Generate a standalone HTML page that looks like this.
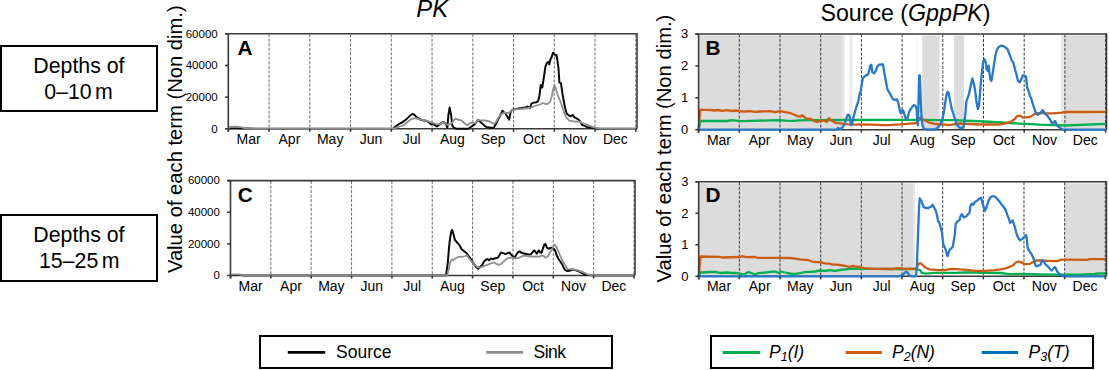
<!DOCTYPE html><html><head><meta charset="utf-8"><style>html,body{margin:0;padding:0;background:#fff;}svg{display:block;}</style></head><body>
<svg width="1109" height="370" viewBox="0 0 1109 370" font-family="Liberation Sans, sans-serif">
<rect width="1109" height="370" fill="#fff"/>
<rect x="1" y="46" width="156" height="65" fill="none" stroke="#000" stroke-width="2"/>
<text x="78.9" y="73.3" font-size="21.3" text-anchor="middle" fill="#000">Depths of</text>
<text x="78.6" y="99" font-size="21.3" word-spacing="-2.5" text-anchor="middle" fill="#000">0–10 m</text>
<rect x="1" y="215" width="156" height="66" fill="none" stroke="#000" stroke-width="2"/>
<text x="78.9" y="241.6" font-size="21.3" text-anchor="middle" fill="#000">Depths of</text>
<text x="79.2" y="267.5" font-size="21.3" word-spacing="-2.5" text-anchor="middle" fill="#000">15–25 m</text>
<text x="432.2" y="17.2" font-size="23.8" font-style="italic" text-anchor="middle" fill="#000">PK</text>
<text x="905.5" y="20.6" font-size="23.2" text-anchor="middle" fill="#000">Source (<tspan font-style="italic">GppPK</tspan>)</text>
<text transform="translate(182,139.2) rotate(-90)" font-size="20.2" text-anchor="middle" fill="#000">Value of each term (Non dim.)</text>
<text transform="translate(671,148.6) rotate(-90)" font-size="20.2" text-anchor="middle" fill="#000">Value of each term (Non dim.)</text>
<line x1="269.05" y1="34.3" x2="269.05" y2="128.8" stroke="#6e6e6e" stroke-width="1" stroke-dasharray="3,1.5"/>
<line x1="309.80" y1="34.3" x2="309.80" y2="128.8" stroke="#6e6e6e" stroke-width="1" stroke-dasharray="3,1.5"/>
<line x1="350.55" y1="34.3" x2="350.55" y2="128.8" stroke="#6e6e6e" stroke-width="1" stroke-dasharray="3,1.5"/>
<line x1="391.30" y1="34.3" x2="391.30" y2="128.8" stroke="#6e6e6e" stroke-width="1" stroke-dasharray="3,1.5"/>
<line x1="432.05" y1="34.3" x2="432.05" y2="128.8" stroke="#6e6e6e" stroke-width="1" stroke-dasharray="3,1.5"/>
<line x1="472.80" y1="34.3" x2="472.80" y2="128.8" stroke="#6e6e6e" stroke-width="1" stroke-dasharray="3,1.5"/>
<line x1="513.55" y1="34.3" x2="513.55" y2="128.8" stroke="#6e6e6e" stroke-width="1" stroke-dasharray="3,1.5"/>
<line x1="554.30" y1="34.3" x2="554.30" y2="128.8" stroke="#6e6e6e" stroke-width="1" stroke-dasharray="3,1.5"/>
<line x1="595.05" y1="34.3" x2="595.05" y2="128.8" stroke="#6e6e6e" stroke-width="1" stroke-dasharray="3,1.5"/>
<line x1="635.80" y1="34.3" x2="635.80" y2="128.8" stroke="#6e6e6e" stroke-width="1" stroke-dasharray="3,1.5"/>
<line x1="228.3" y1="128.8" x2="637" y2="128.8" stroke="#3a3a3a" stroke-width="1.6"/>
<polyline points="228.3,128.8 231.0,128.2 240.0,128.3 255.0,128.8 393.0,128.8 396.0,126.1 398.7,124.2 401.8,122.6 404.6,120.7 407.7,117.9 410.1,115.6 412.4,114.0 414.0,114.4 415.9,116.4 417.5,117.9 420.2,119.5 422.6,120.3 427.3,121.0 428.9,122.6 430.8,124.2 432.8,123.8 435.1,125.4 436.7,126.5 439.0,125.0 442.2,122.6 444.0,122.3 446.0,123.9 447.3,128.0 448.4,115.0 449.6,107.6 451.1,115.0 452.2,125.3 453.8,127.7 456.2,128.8 468.1,128.8 471.4,126.6 474.6,124.5 477.9,119.9 480.0,121.5 482.7,123.9 484.9,126.1 487.1,127.2 489.8,127.4 492.5,128.0 494.1,127.4 495.7,124.2 497.9,119.9 500.0,116.0 502.4,110.7 505.7,113.9 508.1,118.0 509.2,119.6 510.5,112.6 512.1,109.8 516.2,109.0 520.2,108.2 525.1,107.4 527.5,106.6 530.0,108.2 531.6,103.4 534.0,102.6 536.5,102.2 538.0,101.3 539.4,96.1 540.8,84.9 542.3,87.4 544.1,75.9 545.4,66.9 546.7,63.1 548.5,61.8 549.2,64.4 550.5,59.2 551.8,56.7 553.0,52.8 554.4,54.1 555.6,55.5 556.6,55.0 558.5,68.2 559.4,82.4 561.0,83.3 562.3,92.7 563.6,100.3 565.1,107.8 566.6,113.5 568.9,115.4 570.8,116.3 572.6,115.0 574.5,117.3 577.4,118.8 580.0,121.0 582.1,124.9 584.1,125.6 586.7,126.9 589.9,127.5 593.2,128.0 596.0,128.8 635.8,128.8" fill="none" stroke="#0a0a0a" stroke-width="2.0" stroke-linejoin="round" stroke-linecap="butt"/>
<polyline points="228.3,128.8 230.0,127.0 235.0,126.7 240.0,127.0 244.0,128.0 250.0,128.5 255.0,128.8 393.0,128.8 395.2,128.1 398.3,126.9 401.4,126.0 404.6,124.6 407.7,121.8 410.8,119.5 413.6,118.3 416.3,118.3 418.7,119.1 423.4,120.3 427.3,121.0 432.0,122.6 435.9,123.8 439.8,124.2 443.2,122.6 444.9,122.8 447.0,124.7 448.7,124.7 451.9,123.1 454.1,119.9 455.7,118.5 457.9,119.6 461.1,120.4 462.7,121.5 464.9,123.7 467.1,125.3 469.2,123.7 471.4,122.6 475.2,123.1 477.9,119.9 480.0,120.4 484.9,120.4 489.8,121.5 493.0,123.7 495.2,123.1 497.4,119.3 500.0,115.5 501.6,113.9 504.8,112.6 508.9,113.0 512.1,109.8 516.0,109.2 520.2,109.0 525.0,108.5 530.0,108.0 535.0,106.0 540.0,104.5 543.0,103.0 547.0,104.3 550.0,102.0 551.8,96.5 553.2,89.0 554.5,85.2 555.8,88.4 557.6,94.8 559.8,100.0 562.2,106.2 564.0,112.0 566.2,117.5 569.3,120.6 575.0,121.7 580.2,121.7 582.1,123.0 585.4,124.0 589.3,125.6 592.5,126.9 595.8,127.8 600.0,128.6 635.8,128.8" fill="none" stroke="#8e8e8e" stroke-width="1.8" stroke-linejoin="round" stroke-linecap="butt"/>
<line x1="225.0" y1="33.8" x2="637" y2="33.8" stroke="#3a3a3a" stroke-width="1.6"/>
<line x1="637" y1="33.099999999999994" x2="637" y2="128.8" stroke="#3a3a3a" stroke-width="1.6"/>
<line x1="228.3" y1="33.8" x2="228.3" y2="131.8" stroke="#3a3a3a" stroke-width="1.6"/>
<line x1="225.0" y1="128.80" x2="228.3" y2="128.80" stroke="#3a3a3a" stroke-width="1.6"/>
<text x="217.70000000000002" y="132.50" font-size="11.5" text-anchor="end" fill="#000">0</text>
<line x1="225.0" y1="97.13" x2="228.3" y2="97.13" stroke="#3a3a3a" stroke-width="1.6"/>
<text x="217.70000000000002" y="100.83" font-size="11.5" text-anchor="end" fill="#000">20000</text>
<line x1="225.0" y1="65.47" x2="228.3" y2="65.47" stroke="#3a3a3a" stroke-width="1.6"/>
<text x="217.70000000000002" y="69.17" font-size="11.5" text-anchor="end" fill="#000">40000</text>
<line x1="225.0" y1="33.80" x2="228.3" y2="33.80" stroke="#3a3a3a" stroke-width="1.6"/>
<text x="217.70000000000002" y="37.50" font-size="11.5" text-anchor="end" fill="#000">60000</text>
<line x1="228.30" y1="128.8" x2="228.30" y2="131.8" stroke="#3a3a3a" stroke-width="1.6"/>
<line x1="269.05" y1="128.8" x2="269.05" y2="131.8" stroke="#3a3a3a" stroke-width="1.6"/>
<line x1="309.80" y1="128.8" x2="309.80" y2="131.8" stroke="#3a3a3a" stroke-width="1.6"/>
<line x1="350.55" y1="128.8" x2="350.55" y2="131.8" stroke="#3a3a3a" stroke-width="1.6"/>
<line x1="391.30" y1="128.8" x2="391.30" y2="131.8" stroke="#3a3a3a" stroke-width="1.6"/>
<line x1="432.05" y1="128.8" x2="432.05" y2="131.8" stroke="#3a3a3a" stroke-width="1.6"/>
<line x1="472.80" y1="128.8" x2="472.80" y2="131.8" stroke="#3a3a3a" stroke-width="1.6"/>
<line x1="513.55" y1="128.8" x2="513.55" y2="131.8" stroke="#3a3a3a" stroke-width="1.6"/>
<line x1="554.30" y1="128.8" x2="554.30" y2="131.8" stroke="#3a3a3a" stroke-width="1.6"/>
<line x1="595.05" y1="128.8" x2="595.05" y2="131.8" stroke="#3a3a3a" stroke-width="1.6"/>
<line x1="635.80" y1="128.8" x2="635.80" y2="131.8" stroke="#3a3a3a" stroke-width="1.6"/>
<text x="248.68" y="143.8" font-size="14" text-anchor="middle" fill="#000">Mar</text>
<text x="289.43" y="143.8" font-size="14" text-anchor="middle" fill="#000">Apr</text>
<text x="330.18" y="143.8" font-size="14" text-anchor="middle" fill="#000">May</text>
<text x="370.92" y="143.8" font-size="14" text-anchor="middle" fill="#000">Jun</text>
<text x="411.67" y="143.8" font-size="14" text-anchor="middle" fill="#000">Jul</text>
<text x="452.42" y="143.8" font-size="14" text-anchor="middle" fill="#000">Aug</text>
<text x="493.17" y="143.8" font-size="14" text-anchor="middle" fill="#000">Sep</text>
<text x="533.92" y="143.8" font-size="14" text-anchor="middle" fill="#000">Oct</text>
<text x="574.67" y="143.8" font-size="14" text-anchor="middle" fill="#000">Nov</text>
<text x="615.42" y="143.8" font-size="14" text-anchor="middle" fill="#000">Dec</text>
<text x="237.4" y="54.8" font-size="20.8" font-weight="bold" fill="#000">A</text>
<line x1="270.85" y1="181.1" x2="270.85" y2="275.5" stroke="#6e6e6e" stroke-width="1" stroke-dasharray="3,1.5"/>
<line x1="311.20" y1="181.1" x2="311.20" y2="275.5" stroke="#6e6e6e" stroke-width="1" stroke-dasharray="3,1.5"/>
<line x1="351.55" y1="181.1" x2="351.55" y2="275.5" stroke="#6e6e6e" stroke-width="1" stroke-dasharray="3,1.5"/>
<line x1="391.90" y1="181.1" x2="391.90" y2="275.5" stroke="#6e6e6e" stroke-width="1" stroke-dasharray="3,1.5"/>
<line x1="432.25" y1="181.1" x2="432.25" y2="275.5" stroke="#6e6e6e" stroke-width="1" stroke-dasharray="3,1.5"/>
<line x1="472.60" y1="181.1" x2="472.60" y2="275.5" stroke="#6e6e6e" stroke-width="1" stroke-dasharray="3,1.5"/>
<line x1="512.95" y1="181.1" x2="512.95" y2="275.5" stroke="#6e6e6e" stroke-width="1" stroke-dasharray="3,1.5"/>
<line x1="553.30" y1="181.1" x2="553.30" y2="275.5" stroke="#6e6e6e" stroke-width="1" stroke-dasharray="3,1.5"/>
<line x1="593.65" y1="181.1" x2="593.65" y2="275.5" stroke="#6e6e6e" stroke-width="1" stroke-dasharray="3,1.5"/>
<line x1="634.00" y1="181.1" x2="634.00" y2="275.5" stroke="#6e6e6e" stroke-width="1" stroke-dasharray="3,1.5"/>
<line x1="230.5" y1="275.5" x2="635" y2="275.5" stroke="#3a3a3a" stroke-width="1.6"/>
<polyline points="230.5,275.5 232.0,275.0 240.0,275.0 245.0,275.5 446.0,275.5 447.7,263.6 448.8,250.2 449.8,240.1 451.0,232.6 452.2,230.0 453.5,234.2 454.9,240.1 456.5,241.8 459.4,245.1 461.6,249.3 463.9,251.0 466.1,252.7 468.6,256.0 471.1,259.4 473.6,263.6 476.1,266.9 478.2,268.7 480.1,266.8 482.0,265.2 483.9,261.7 485.8,259.8 487.7,259.1 489.0,260.4 490.9,258.5 492.8,259.1 495.3,258.2 497.9,257.6 499.8,254.7 501.0,252.5 503.6,253.4 505.5,254.1 506.8,253.4 509.3,252.5 511.2,254.7 513.1,256.6 514.4,257.9 516.3,254.7 518.2,252.2 519.7,251.3 521.4,252.8 525.0,253.7 528.2,254.5 531.1,254.3 532.7,252.0 534.3,250.4 535.5,252.0 536.8,253.7 538.0,251.6 539.0,250.4 540.0,252.4 541.6,252.8 542.8,248.8 544.1,245.1 545.3,243.9 546.1,245.5 546.9,247.6 548.5,248.8 550.2,248.0 551.8,247.6 553.0,248.8 554.2,249.0 555.4,251.2 556.6,255.3 558.3,258.5 559.9,261.0 561.9,263.8 563.8,268.0 565.2,270.1 567.3,271.0 569.4,270.8 572.3,269.6 575.1,270.1 577.9,271.0 580.7,272.2 582.8,273.6 585.6,274.7 591.2,275.3 595.0,275.5 634.0,275.5" fill="none" stroke="#0a0a0a" stroke-width="2.0" stroke-linejoin="round" stroke-linecap="butt"/>
<polyline points="230.5,275.5 232.0,274.3 238.0,274.3 243.0,275.0 248.0,275.5 447.0,275.5 448.5,270.3 450.2,261.9 451.8,259.4 453.5,260.2 455.2,258.5 458.5,256.9 461.9,256.9 465.2,256.0 466.9,255.2 468.6,257.7 472.0,261.9 475.3,265.3 477.8,267.4 480.7,267.4 483.9,266.1 487.1,264.9 490.2,263.6 493.4,262.3 496.0,263.6 498.5,264.9 501.0,264.0 503.6,261.7 506.1,259.1 508.7,257.9 512.5,257.6 515.7,258.5 518.8,257.9 522.6,256.0 525.0,255.7 529.9,256.7 534.7,256.5 539.6,256.7 541.6,255.3 543.7,256.1 545.7,257.7 547.7,256.5 549.3,253.7 551.0,250.8 552.6,248.0 553.8,245.5 555.0,244.7 556.2,246.4 558.3,251.2 560.3,256.1 562.3,260.2 564.8,264.6 567.3,269.1 571.5,269.1 577.2,270.1 582.8,272.2 587.7,274.3 592.6,275.3 597.0,275.5 634.0,275.5" fill="none" stroke="#8e8e8e" stroke-width="1.8" stroke-linejoin="round" stroke-linecap="butt"/>
<line x1="227.2" y1="180.6" x2="635" y2="180.6" stroke="#3a3a3a" stroke-width="1.6"/>
<line x1="635" y1="179.9" x2="635" y2="275.5" stroke="#3a3a3a" stroke-width="1.6"/>
<line x1="230.5" y1="180.6" x2="230.5" y2="278.5" stroke="#3a3a3a" stroke-width="1.6"/>
<line x1="227.2" y1="275.50" x2="230.5" y2="275.50" stroke="#3a3a3a" stroke-width="1.6"/>
<text x="219.9" y="279.20" font-size="11.5" text-anchor="end" fill="#000">0</text>
<line x1="227.2" y1="243.87" x2="230.5" y2="243.87" stroke="#3a3a3a" stroke-width="1.6"/>
<text x="219.9" y="247.57" font-size="11.5" text-anchor="end" fill="#000">20000</text>
<line x1="227.2" y1="212.23" x2="230.5" y2="212.23" stroke="#3a3a3a" stroke-width="1.6"/>
<text x="219.9" y="215.93" font-size="11.5" text-anchor="end" fill="#000">40000</text>
<line x1="227.2" y1="180.60" x2="230.5" y2="180.60" stroke="#3a3a3a" stroke-width="1.6"/>
<text x="219.9" y="184.30" font-size="11.5" text-anchor="end" fill="#000">60000</text>
<line x1="230.50" y1="275.5" x2="230.50" y2="278.5" stroke="#3a3a3a" stroke-width="1.6"/>
<line x1="270.85" y1="275.5" x2="270.85" y2="278.5" stroke="#3a3a3a" stroke-width="1.6"/>
<line x1="311.20" y1="275.5" x2="311.20" y2="278.5" stroke="#3a3a3a" stroke-width="1.6"/>
<line x1="351.55" y1="275.5" x2="351.55" y2="278.5" stroke="#3a3a3a" stroke-width="1.6"/>
<line x1="391.90" y1="275.5" x2="391.90" y2="278.5" stroke="#3a3a3a" stroke-width="1.6"/>
<line x1="432.25" y1="275.5" x2="432.25" y2="278.5" stroke="#3a3a3a" stroke-width="1.6"/>
<line x1="472.60" y1="275.5" x2="472.60" y2="278.5" stroke="#3a3a3a" stroke-width="1.6"/>
<line x1="512.95" y1="275.5" x2="512.95" y2="278.5" stroke="#3a3a3a" stroke-width="1.6"/>
<line x1="553.30" y1="275.5" x2="553.30" y2="278.5" stroke="#3a3a3a" stroke-width="1.6"/>
<line x1="593.65" y1="275.5" x2="593.65" y2="278.5" stroke="#3a3a3a" stroke-width="1.6"/>
<line x1="634.00" y1="275.5" x2="634.00" y2="278.5" stroke="#3a3a3a" stroke-width="1.6"/>
<text x="250.68" y="290.5" font-size="14" text-anchor="middle" fill="#000">Mar</text>
<text x="291.02" y="290.5" font-size="14" text-anchor="middle" fill="#000">Apr</text>
<text x="331.38" y="290.5" font-size="14" text-anchor="middle" fill="#000">May</text>
<text x="371.73" y="290.5" font-size="14" text-anchor="middle" fill="#000">Jun</text>
<text x="412.08" y="290.5" font-size="14" text-anchor="middle" fill="#000">Jul</text>
<text x="452.43" y="290.5" font-size="14" text-anchor="middle" fill="#000">Aug</text>
<text x="492.78" y="290.5" font-size="14" text-anchor="middle" fill="#000">Sep</text>
<text x="533.12" y="290.5" font-size="14" text-anchor="middle" fill="#000">Oct</text>
<text x="573.48" y="290.5" font-size="14" text-anchor="middle" fill="#000">Nov</text>
<text x="613.83" y="290.5" font-size="14" text-anchor="middle" fill="#000">Dec</text>
<text x="237.8" y="201.5" font-size="20.8" font-weight="bold" fill="#000">C</text>
<rect x="699.3" y="35.5" width="143.20000000000005" height="94.19999999999999" fill="#dcdcdc"/>
<rect x="842.5" y="35.5" width="2.0" height="94.19999999999999" fill="#e6e6e6"/>
<rect x="849" y="35.5" width="3.7000000000000455" height="94.19999999999999" fill="#ececec"/>
<rect x="916" y="35.5" width="1.3999999999999773" height="94.19999999999999" fill="#f6f6f6"/>
<rect x="922.2" y="35.5" width="17.5" height="94.19999999999999" fill="#dcdcdc"/>
<rect x="953.9" y="35.5" width="10.100000000000023" height="94.19999999999999" fill="#dcdcdc"/>
<rect x="1061" y="35.5" width="4" height="94.19999999999999" fill="#e8e8e8"/>
<rect x="1065" y="35.5" width="41" height="94.19999999999999" fill="#dcdcdc"/>
<line x1="739.30" y1="34.5" x2="739.30" y2="129.7" stroke="#3c3c3c" stroke-width="1" stroke-dasharray="3,1.5"/>
<line x1="780.00" y1="34.5" x2="780.00" y2="129.7" stroke="#3c3c3c" stroke-width="1" stroke-dasharray="3,1.5"/>
<line x1="820.70" y1="34.5" x2="820.70" y2="129.7" stroke="#3c3c3c" stroke-width="1" stroke-dasharray="3,1.5"/>
<line x1="861.40" y1="34.5" x2="861.40" y2="129.7" stroke="#3c3c3c" stroke-width="1" stroke-dasharray="3,1.5"/>
<line x1="902.10" y1="34.5" x2="902.10" y2="129.7" stroke="#3c3c3c" stroke-width="1" stroke-dasharray="3,1.5"/>
<line x1="942.80" y1="34.5" x2="942.80" y2="129.7" stroke="#3c3c3c" stroke-width="1" stroke-dasharray="3,1.5"/>
<line x1="983.50" y1="34.5" x2="983.50" y2="129.7" stroke="#3c3c3c" stroke-width="1" stroke-dasharray="3,1.5"/>
<line x1="1024.20" y1="34.5" x2="1024.20" y2="129.7" stroke="#3c3c3c" stroke-width="1" stroke-dasharray="3,1.5"/>
<line x1="1064.90" y1="34.5" x2="1064.90" y2="129.7" stroke="#3c3c3c" stroke-width="1" stroke-dasharray="3,1.5"/>
<line x1="1105.60" y1="34.5" x2="1105.60" y2="129.7" stroke="#3c3c3c" stroke-width="1" stroke-dasharray="3,1.5"/>
<line x1="698.6" y1="129.7" x2="1106.5" y2="129.7" stroke="#3a3a3a" stroke-width="1.6"/>
<polyline points="698.6,129.7 700.5,121.0 710.0,121.0 727.0,121.0 732.0,120.2 736.0,120.6 740.0,121.0 745.0,121.2 750.0,120.8 760.0,120.6 770.0,120.4 780.0,120.1 786.0,120.7 794.0,120.9 798.0,120.4 810.0,120.1 850.0,120.0 900.0,119.9 955.0,120.2 984.0,121.5 1010.0,123.0 1020.0,123.6 1040.0,124.7 1065.0,125.5 1105.6,123.8" fill="none" stroke="#00b050" stroke-width="2.3" stroke-linejoin="round" stroke-linecap="butt"/>
<polyline points="698.6,129.7 700.3,109.6 705.0,109.8 710.0,110.0 715.0,110.5 718.0,110.0 722.0,110.8 727.0,110.2 732.0,111.0 736.0,110.5 740.0,111.3 745.0,111.5 750.0,111.2 755.0,111.8 760.0,111.5 765.0,111.3 770.0,111.2 774.9,112.1 780.3,111.2 785.1,112.1 789.5,112.8 793.8,114.5 797.6,116.1 800.3,116.6 802.4,115.3 804.6,117.2 807.3,119.0 810.0,118.6 811.6,119.3 814.3,121.0 816.5,121.8 818.6,121.5 820.8,120.7 823.0,120.4 825.1,121.0 826.8,122.0 827.8,119.3 829.2,118.2 830.5,119.6 833.2,121.5 835.9,122.9 840.3,123.3 845.5,124.1 850.0,124.4 855.0,124.6 861.6,124.5 872.4,124.6 883.2,125.1 889.6,125.1 895.0,124.6 900.0,124.4 910.1,123.6 916.6,123.0 918.3,119.8 920.5,117.2 922.0,118.7 925.2,120.8 928.5,122.3 933.9,123.6 939.2,124.5 944.6,124.5 949.0,125.1 955.0,124.1 960.0,123.5 970.0,124.0 980.0,124.5 990.0,124.5 998.5,124.6 1005.0,123.5 1010.4,122.0 1014.5,119.3 1017.2,116.1 1019.9,115.5 1022.6,117.4 1026.6,117.4 1030.7,116.6 1034.7,113.9 1040.1,112.8 1045.5,113.4 1053.6,113.4 1061.8,112.6 1065.0,112.0 1085.0,112.0 1105.6,111.8" fill="none" stroke="#cb5c14" stroke-width="2.3" stroke-linejoin="round" stroke-linecap="butt"/>
<polyline points="698.6,129.7 836.5,129.7 838.1,128.0 840.3,129.2 842.4,127.4 844.4,124.4 846.3,118.2 848.0,114.6 849.3,115.0 850.2,119.8 851.0,125.0 852.0,124.5 853.4,117.6 855.1,111.1 856.8,105.7 858.3,101.4 859.4,94.9 860.9,90.6 861.6,85.2 862.7,78.7 864.2,76.6 865.9,75.5 868.1,74.4 869.1,71.2 870.2,65.8 871.3,64.7 872.4,72.3 874.1,73.3 875.6,71.2 877.1,66.9 878.9,64.7 881.0,64.7 882.5,64.1 883.2,65.8 884.2,72.3 885.8,80.9 887.5,89.5 890.1,93.9 892.9,99.2 895.0,99.9 896.7,99.2 898.2,102.5 899.3,107.9 900.2,112.2 901.0,113.3 902.6,110.0 903.6,111.6 904.7,115.4 905.8,118.7 906.9,119.8 908.0,116.5 909.0,112.2 910.5,109.4 912.3,106.8 914.0,105.1 915.5,105.7 916.6,109.0 917.2,119.8 917.9,125.1 918.5,102.5 919.2,75.5 919.8,75.5 920.5,93.9 921.3,113.3 922.2,124.1 923.5,128.0 925.2,129.5 934.9,129.5 938.2,127.3 940.3,124.1 942.5,118.7 944.2,110.0 945.3,102.5 946.4,94.9 947.5,91.7 948.5,92.8 950.0,100.3 951.5,107.9 953.0,113.0 955.0,119.0 957.0,125.0 960.0,128.0 963.5,127.5 965.1,116.9 966.4,101.5 967.7,97.7 969.0,93.8 970.3,87.4 971.5,82.3 972.3,78.5 973.3,82.3 974.4,86.2 975.4,92.6 976.4,101.5 977.9,109.2 979.0,105.4 980.0,93.8 981.0,81.0 982.1,70.8 983.1,61.8 984.4,59.2 985.6,61.8 986.7,69.5 987.7,70.8 988.7,65.6 989.5,73.3 990.5,79.7 991.3,81.0 992.3,75.9 993.3,69.5 994.4,61.8 995.4,55.4 996.7,50.3 998.5,47.2 1001.0,45.6 1004.1,46.4 1007.4,49.0 1009.9,55.3 1011.8,60.7 1013.1,62.0 1014.5,67.4 1016.4,74.2 1018.0,80.9 1019.9,82.3 1021.2,79.6 1022.6,75.5 1024.5,75.5 1026.1,76.9 1027.2,87.7 1028.8,91.8 1029.9,95.8 1031.2,98.5 1032.8,103.9 1034.2,108.0 1035.5,112.0 1037.4,114.7 1040.1,113.4 1042.8,110.1 1045.0,113.4 1047.7,116.1 1050.4,120.1 1052.3,123.6 1053.6,122.8 1055.0,120.9 1056.4,124.2 1058.5,126.9 1061.8,129.1 1063.0,129.7 1105.6,129.7" fill="none" stroke="#2a78c8" stroke-width="2.3" stroke-linejoin="round" stroke-linecap="butt"/>
<line x1="695.3000000000001" y1="34" x2="1106.5" y2="34" stroke="#3a3a3a" stroke-width="1.6"/>
<line x1="1106.5" y1="33.3" x2="1106.5" y2="129.7" stroke="#3a3a3a" stroke-width="1.6"/>
<line x1="698.6" y1="34" x2="698.6" y2="132.7" stroke="#3a3a3a" stroke-width="1.6"/>
<line x1="695.3000000000001" y1="129.70" x2="698.6" y2="129.70" stroke="#3a3a3a" stroke-width="1.6"/>
<text x="688.3000000000001" y="134.10" font-size="13" text-anchor="end" fill="#000">0</text>
<line x1="695.3000000000001" y1="97.80" x2="698.6" y2="97.80" stroke="#3a3a3a" stroke-width="1.6"/>
<text x="688.3000000000001" y="102.20" font-size="13" text-anchor="end" fill="#000">1</text>
<line x1="695.3000000000001" y1="65.90" x2="698.6" y2="65.90" stroke="#3a3a3a" stroke-width="1.6"/>
<text x="688.3000000000001" y="70.30" font-size="13" text-anchor="end" fill="#000">2</text>
<line x1="695.3000000000001" y1="34.00" x2="698.6" y2="34.00" stroke="#3a3a3a" stroke-width="1.6"/>
<text x="688.3000000000001" y="38.40" font-size="13" text-anchor="end" fill="#000">3</text>
<line x1="698.60" y1="129.7" x2="698.60" y2="132.7" stroke="#3a3a3a" stroke-width="1.6"/>
<line x1="739.30" y1="129.7" x2="739.30" y2="132.7" stroke="#3a3a3a" stroke-width="1.6"/>
<line x1="780.00" y1="129.7" x2="780.00" y2="132.7" stroke="#3a3a3a" stroke-width="1.6"/>
<line x1="820.70" y1="129.7" x2="820.70" y2="132.7" stroke="#3a3a3a" stroke-width="1.6"/>
<line x1="861.40" y1="129.7" x2="861.40" y2="132.7" stroke="#3a3a3a" stroke-width="1.6"/>
<line x1="902.10" y1="129.7" x2="902.10" y2="132.7" stroke="#3a3a3a" stroke-width="1.6"/>
<line x1="942.80" y1="129.7" x2="942.80" y2="132.7" stroke="#3a3a3a" stroke-width="1.6"/>
<line x1="983.50" y1="129.7" x2="983.50" y2="132.7" stroke="#3a3a3a" stroke-width="1.6"/>
<line x1="1024.20" y1="129.7" x2="1024.20" y2="132.7" stroke="#3a3a3a" stroke-width="1.6"/>
<line x1="1064.90" y1="129.7" x2="1064.90" y2="132.7" stroke="#3a3a3a" stroke-width="1.6"/>
<line x1="1105.60" y1="129.7" x2="1105.60" y2="132.7" stroke="#3a3a3a" stroke-width="1.6"/>
<text x="718.95" y="144.7" font-size="14" text-anchor="middle" fill="#000">Mar</text>
<text x="759.65" y="144.7" font-size="14" text-anchor="middle" fill="#000">Apr</text>
<text x="800.35" y="144.7" font-size="14" text-anchor="middle" fill="#000">May</text>
<text x="841.05" y="144.7" font-size="14" text-anchor="middle" fill="#000">Jun</text>
<text x="881.75" y="144.7" font-size="14" text-anchor="middle" fill="#000">Jul</text>
<text x="922.45" y="144.7" font-size="14" text-anchor="middle" fill="#000">Aug</text>
<text x="963.15" y="144.7" font-size="14" text-anchor="middle" fill="#000">Sep</text>
<text x="1003.85" y="144.7" font-size="14" text-anchor="middle" fill="#000">Oct</text>
<text x="1044.55" y="144.7" font-size="14" text-anchor="middle" fill="#000">Nov</text>
<text x="1085.25" y="144.7" font-size="14" text-anchor="middle" fill="#000">Dec</text>
<text x="705.6" y="54.8" font-size="20.8" font-weight="bold" fill="#000">B</text>
<rect x="699.3" y="183.3" width="214.20000000000005" height="93.0" fill="#dcdcdc"/>
<rect x="913.5" y="183.3" width="1.5" height="93.0" fill="#e6e6e6"/>
<rect x="1065" y="183.3" width="41" height="93.0" fill="#dcdcdc"/>
<line x1="739.36" y1="182.3" x2="739.36" y2="276.3" stroke="#3c3c3c" stroke-width="1" stroke-dasharray="3,1.5"/>
<line x1="780.02" y1="182.3" x2="780.02" y2="276.3" stroke="#3c3c3c" stroke-width="1" stroke-dasharray="3,1.5"/>
<line x1="820.68" y1="182.3" x2="820.68" y2="276.3" stroke="#3c3c3c" stroke-width="1" stroke-dasharray="3,1.5"/>
<line x1="861.34" y1="182.3" x2="861.34" y2="276.3" stroke="#3c3c3c" stroke-width="1" stroke-dasharray="3,1.5"/>
<line x1="902.00" y1="182.3" x2="902.00" y2="276.3" stroke="#3c3c3c" stroke-width="1" stroke-dasharray="3,1.5"/>
<line x1="942.66" y1="182.3" x2="942.66" y2="276.3" stroke="#3c3c3c" stroke-width="1" stroke-dasharray="3,1.5"/>
<line x1="983.32" y1="182.3" x2="983.32" y2="276.3" stroke="#3c3c3c" stroke-width="1" stroke-dasharray="3,1.5"/>
<line x1="1023.98" y1="182.3" x2="1023.98" y2="276.3" stroke="#3c3c3c" stroke-width="1" stroke-dasharray="3,1.5"/>
<line x1="1064.64" y1="182.3" x2="1064.64" y2="276.3" stroke="#3c3c3c" stroke-width="1" stroke-dasharray="3,1.5"/>
<line x1="1105.30" y1="182.3" x2="1105.30" y2="276.3" stroke="#3c3c3c" stroke-width="1" stroke-dasharray="3,1.5"/>
<line x1="698.7" y1="276.3" x2="1106.4" y2="276.3" stroke="#3a3a3a" stroke-width="1.6"/>
<polyline points="698.7,276.3 700.5,272.5 710.0,272.0 716.0,271.8 720.0,273.0 727.0,272.5 732.0,273.0 736.0,272.8 741.0,274.0 744.0,274.5 748.0,272.2 752.0,273.2 755.0,274.5 758.0,273.2 765.0,272.5 770.0,271.8 775.0,271.5 779.0,273.0 780.5,271.5 785.0,272.5 790.0,273.5 794.0,274.2 800.0,273.2 805.0,272.2 810.0,271.8 815.0,271.5 820.0,270.5 825.0,270.8 830.0,270.2 835.0,270.8 840.0,270.0 845.0,269.3 850.0,268.8 860.0,268.8 870.0,268.8 880.0,268.9 890.0,269.0 905.0,269.0 916.0,269.0 920.0,270.0 921.8,272.8 925.7,273.6 934.9,272.8 945.4,272.8 955.8,272.8 965.0,272.5 975.0,272.5 985.0,272.8 1000.0,273.0 1010.0,274.1 1020.0,274.0 1040.0,274.4 1060.0,274.7 1080.0,274.7 1095.0,274.0 1097.4,273.5 1105.3,273.5" fill="none" stroke="#00b050" stroke-width="2.3" stroke-linejoin="round" stroke-linecap="butt"/>
<polyline points="698.7,276.3 700.5,256.5 720.0,256.8 722.0,257.5 740.0,257.0 742.0,256.2 746.0,257.2 755.0,257.0 757.0,257.8 776.0,257.8 790.0,258.0 795.0,258.7 800.0,259.3 805.0,259.8 808.0,260.0 812.0,261.5 815.0,262.2 820.0,262.2 825.0,263.3 830.0,263.7 832.0,264.5 835.0,264.7 840.0,265.0 845.0,265.8 850.0,267.0 852.0,266.0 855.0,266.5 860.0,267.0 862.0,267.5 866.0,268.5 875.0,268.8 893.0,269.0 898.0,268.2 905.0,268.8 914.0,268.8 916.0,269.0 918.0,264.9 920.0,263.0 922.0,264.4 925.2,267.5 929.6,269.4 938.8,270.1 945.4,270.1 950.6,268.8 959.8,269.4 970.0,270.1 975.0,270.9 984.9,270.9 995.1,270.1 1000.4,269.4 1005.6,268.3 1010.1,266.7 1013.5,264.9 1016.1,262.3 1018.7,261.5 1021.3,262.3 1023.9,263.8 1026.9,264.2 1030.0,263.8 1032.3,262.5 1034.7,261.0 1037.0,260.3 1041.6,260.5 1047.8,260.8 1057.0,261.2 1061.6,259.7 1064.7,259.6 1087.0,259.9 1089.5,259.1 1105.3,259.1" fill="none" stroke="#cb5c14" stroke-width="2.3" stroke-linejoin="round" stroke-linecap="butt"/>
<polyline points="698.7,276.3 900.0,276.3 903.0,274.5 906.0,271.5 907.0,272.0 909.5,275.5 912.0,276.3 916.0,276.3 916.8,268.0 917.9,237.4 919.0,208.0 919.7,198.5 921.6,201.4 923.5,207.0 925.4,208.0 928.2,208.0 931.1,206.6 932.4,204.8 933.9,207.0 935.8,210.8 937.3,216.5 938.1,221.2 939.2,222.2 940.5,226.9 941.9,232.6 942.6,238.2 943.4,244.9 944.9,247.7 946.2,251.5 947.5,256.2 949.1,251.5 950.0,249.6 952.8,246.8 954.7,235.4 955.7,224.0 957.6,221.2 959.5,220.3 960.4,216.5 961.9,214.2 963.8,217.4 966.1,216.5 968.0,214.2 969.5,212.7 970.4,206.1 971.8,203.6 973.3,204.8 974.6,202.3 977.4,200.4 979.3,198.5 981.2,197.9 983.1,205.1 985.0,210.8 986.5,207.3 988.1,202.0 989.9,198.1 991.2,196.8 993.3,196.0 995.1,196.8 997.7,199.4 999.8,202.0 1001.7,204.6 1003.0,206.0 1005.6,209.9 1007.4,215.1 1009.0,219.1 1010.1,223.0 1011.4,221.7 1012.7,220.4 1014.0,224.3 1014.8,226.9 1016.1,232.2 1017.4,236.1 1018.7,238.7 1020.0,240.4 1022.3,238.9 1023.9,237.3 1025.4,235.8 1026.2,235.0 1026.9,240.4 1027.7,248.1 1028.5,249.7 1030.0,252.0 1031.6,254.3 1033.1,257.4 1034.7,262.0 1035.4,265.4 1037.0,266.3 1038.5,265.4 1040.1,265.1 1040.8,264.3 1041.6,261.2 1042.4,260.2 1043.9,262.0 1045.5,264.3 1047.8,266.3 1050.1,269.0 1051.6,270.5 1053.2,269.0 1054.7,267.0 1055.8,268.2 1057.0,271.3 1059.3,274.0 1062.4,275.6 1064.7,276.3 1105.3,276.3" fill="none" stroke="#2a78c8" stroke-width="2.3" stroke-linejoin="round" stroke-linecap="butt"/>
<line x1="695.4000000000001" y1="181.8" x2="1106.4" y2="181.8" stroke="#3a3a3a" stroke-width="1.6"/>
<line x1="1106.4" y1="181.10000000000002" x2="1106.4" y2="276.3" stroke="#3a3a3a" stroke-width="1.6"/>
<line x1="698.7" y1="181.8" x2="698.7" y2="279.3" stroke="#3a3a3a" stroke-width="1.6"/>
<line x1="695.4000000000001" y1="276.30" x2="698.7" y2="276.30" stroke="#3a3a3a" stroke-width="1.6"/>
<text x="688.4000000000001" y="280.70" font-size="13" text-anchor="end" fill="#000">0</text>
<line x1="695.4000000000001" y1="244.80" x2="698.7" y2="244.80" stroke="#3a3a3a" stroke-width="1.6"/>
<text x="688.4000000000001" y="249.20" font-size="13" text-anchor="end" fill="#000">1</text>
<line x1="695.4000000000001" y1="213.30" x2="698.7" y2="213.30" stroke="#3a3a3a" stroke-width="1.6"/>
<text x="688.4000000000001" y="217.70" font-size="13" text-anchor="end" fill="#000">2</text>
<line x1="695.4000000000001" y1="181.80" x2="698.7" y2="181.80" stroke="#3a3a3a" stroke-width="1.6"/>
<text x="688.4000000000001" y="186.20" font-size="13" text-anchor="end" fill="#000">3</text>
<line x1="698.70" y1="276.3" x2="698.70" y2="279.3" stroke="#3a3a3a" stroke-width="1.6"/>
<line x1="739.36" y1="276.3" x2="739.36" y2="279.3" stroke="#3a3a3a" stroke-width="1.6"/>
<line x1="780.02" y1="276.3" x2="780.02" y2="279.3" stroke="#3a3a3a" stroke-width="1.6"/>
<line x1="820.68" y1="276.3" x2="820.68" y2="279.3" stroke="#3a3a3a" stroke-width="1.6"/>
<line x1="861.34" y1="276.3" x2="861.34" y2="279.3" stroke="#3a3a3a" stroke-width="1.6"/>
<line x1="902.00" y1="276.3" x2="902.00" y2="279.3" stroke="#3a3a3a" stroke-width="1.6"/>
<line x1="942.66" y1="276.3" x2="942.66" y2="279.3" stroke="#3a3a3a" stroke-width="1.6"/>
<line x1="983.32" y1="276.3" x2="983.32" y2="279.3" stroke="#3a3a3a" stroke-width="1.6"/>
<line x1="1023.98" y1="276.3" x2="1023.98" y2="279.3" stroke="#3a3a3a" stroke-width="1.6"/>
<line x1="1064.64" y1="276.3" x2="1064.64" y2="279.3" stroke="#3a3a3a" stroke-width="1.6"/>
<line x1="1105.30" y1="276.3" x2="1105.30" y2="279.3" stroke="#3a3a3a" stroke-width="1.6"/>
<text x="719.03" y="291.3" font-size="14" text-anchor="middle" fill="#000">Mar</text>
<text x="759.69" y="291.3" font-size="14" text-anchor="middle" fill="#000">Apr</text>
<text x="800.35" y="291.3" font-size="14" text-anchor="middle" fill="#000">May</text>
<text x="841.01" y="291.3" font-size="14" text-anchor="middle" fill="#000">Jun</text>
<text x="881.67" y="291.3" font-size="14" text-anchor="middle" fill="#000">Jul</text>
<text x="922.33" y="291.3" font-size="14" text-anchor="middle" fill="#000">Aug</text>
<text x="962.99" y="291.3" font-size="14" text-anchor="middle" fill="#000">Sep</text>
<text x="1003.65" y="291.3" font-size="14" text-anchor="middle" fill="#000">Oct</text>
<text x="1044.31" y="291.3" font-size="14" text-anchor="middle" fill="#000">Nov</text>
<text x="1084.97" y="291.3" font-size="14" text-anchor="middle" fill="#000">Dec</text>
<text x="705.6" y="201.5" font-size="20.8" font-weight="bold" fill="#000">D</text>
<rect x="260" y="336" width="352" height="32" fill="none" stroke="#000" stroke-width="2"/>
<line x1="287.8" y1="352.4" x2="325.2" y2="352.4" stroke="#000" stroke-width="2.7"/>
<text x="336" y="358" font-size="17.5" fill="#000">Source</text>
<line x1="486.2" y1="352.4" x2="523" y2="352.4" stroke="#8e8e8e" stroke-width="2.7"/>
<text x="533.6" y="358" font-size="17.5" letter-spacing="-0.55" fill="#000">Sink</text>
<rect x="711" y="336" width="382" height="32" fill="none" stroke="#000" stroke-width="2"/>
<line x1="722.6" y1="352.4" x2="760.2" y2="352.4" stroke="#00b050" stroke-width="3"/>
<text x="769" y="357.8" font-size="17.5" font-style="italic" fill="#000">P<tspan font-size="12.5" dy="3.5">1</tspan><tspan dy="-3.5">(I)</tspan></text>
<line x1="845.6" y1="352.4" x2="881.9" y2="352.4" stroke="#cb5c14" stroke-width="3"/>
<text x="892" y="357.8" font-size="17.5" font-style="italic" fill="#000">P<tspan font-size="12.5" dy="3.5">2</tspan><tspan dy="-3.5">(N)</tspan></text>
<line x1="981.7" y1="352.4" x2="1018" y2="352.4" stroke="#0070c0" stroke-width="3"/>
<text x="1028.5" y="357.8" font-size="17.5" font-style="italic" fill="#000">P<tspan font-size="12.5" dy="3.5">3</tspan><tspan dy="-3.5">(T)</tspan></text>
</svg></body></html>
